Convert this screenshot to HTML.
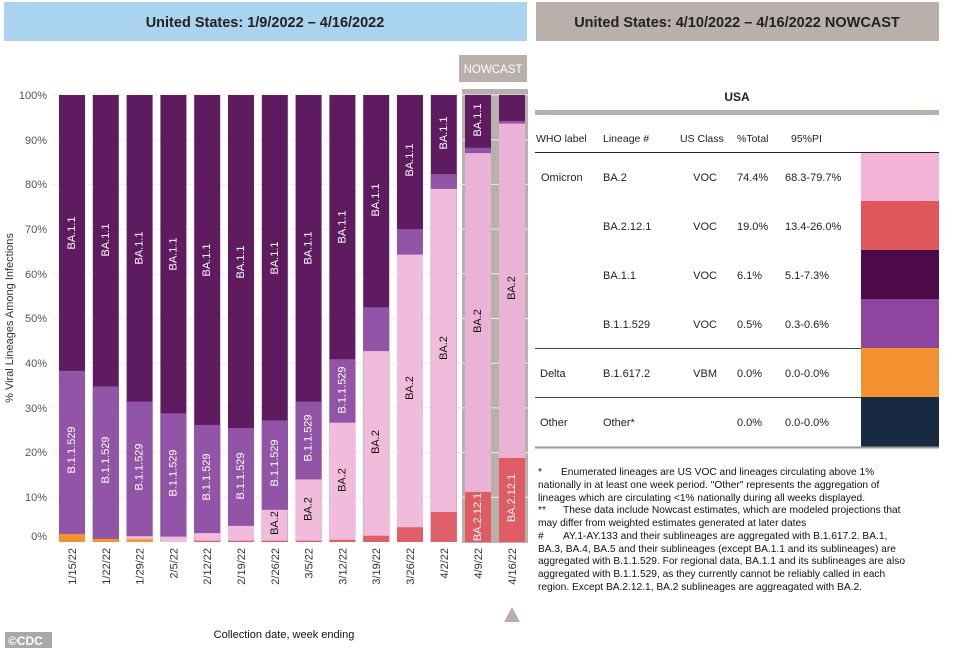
<!DOCTYPE html>
<html><head><meta charset="utf-8"><style>
body{margin:0;background:#fff;width:961px;height:648px;overflow:hidden;font-family:"Liberation Sans",Arial,sans-serif}
svg text{font-family:"Liberation Sans",Arial,sans-serif}
</style></head><body>
<svg width="961" height="648" viewBox="0 0 961 648" xmlns="http://www.w3.org/2000/svg">
<rect x="4" y="2" width="523" height="39" fill="#a9d3ee"/>
<text x="265" y="27" font-size="14.5" font-weight="bold" text-anchor="middle" fill="#222">United States: 1/9/2022 – 4/16/2022</text>
<rect x="536" y="2" width="403" height="39" fill="#b9afab"/>
<text x="737" y="27" font-size="14.5" font-weight="bold" text-anchor="middle" fill="#222">United States: 4/10/2022 – 4/16/2022 NOWCAST</text>
<rect x="459" y="55" width="68" height="27" fill="#b9afab"/>
<text x="493" y="73" font-size="11.5" text-anchor="middle" fill="#fff">NOWCAST</text>
<rect x="462" y="89" width="66" height="454" fill="#b9afab"/>
<g stroke="#eeeeee" stroke-width="1">
<line x1="52" x2="528" y1="95" y2="95"/><line x1="52" x2="528" y1="139.7" y2="139.7"/><line x1="52" x2="528" y1="184.4" y2="184.4"/><line x1="52" x2="528" y1="229.1" y2="229.1"/><line x1="52" x2="528" y1="273.8" y2="273.8"/><line x1="52" x2="528" y1="318.5" y2="318.5"/><line x1="52" x2="528" y1="363.2" y2="363.2"/><line x1="52" x2="528" y1="407.9" y2="407.9"/><line x1="52" x2="528" y1="452.6" y2="452.6"/><line x1="52" x2="528" y1="497.3" y2="497.3"/>
</g>
<g font-size="11" fill="#555" text-anchor="end">
<text x="47" y="99">100%</text><text x="47" y="144">90%</text><text x="47" y="188">80%</text><text x="47" y="233">70%</text><text x="47" y="278">60%</text><text x="47" y="322">50%</text><text x="47" y="367">40%</text><text x="47" y="412">30%</text><text x="47" y="456">20%</text><text x="47" y="501">10%</text><text x="47" y="540">0%</text>
</g>
<text transform="translate(13,318) rotate(-90)" font-size="11" fill="#333" text-anchor="middle">% Viral Lineages Among Infections</text>
<g>
<!-- bar 0 -->
<rect x="59" y="95" width="26" height="447" fill="#5f1b60"/><rect x="59" y="370.8" width="26" height="171.2" fill="#9154a6"/><rect x="59" y="534" width="26" height="8" fill="#f39334"/>
<rect x="92.8" y="95" width="26" height="447" fill="#5f1b60"/><rect x="92.8" y="386.4" width="26" height="155.6" fill="#9154a6"/><rect x="92.8" y="538.9" width="26" height="3.1" fill="#f39334"/>
<rect x="126.6" y="95" width="26" height="447" fill="#5f1b60"/><rect x="126.6" y="401.6" width="26" height="140.4" fill="#9154a6"/><rect x="126.6" y="536.2" width="26" height="5.8" fill="#f1bcdc"/><rect x="126.6" y="539.3" width="26" height="2.7" fill="#f39334"/>
<rect x="160.4" y="95" width="26" height="447" fill="#5f1b60"/><rect x="160.4" y="413.3" width="26" height="128.7" fill="#9154a6"/><rect x="160.4" y="536.6" width="26" height="5.4" fill="#f1bcdc"/>
<rect x="194.2" y="95" width="26" height="447" fill="#5f1b60"/><rect x="194.2" y="424.9" width="26" height="117.1" fill="#9154a6"/><rect x="194.2" y="533.1" width="26" height="8.9" fill="#f1bcdc"/><rect x="194.2" y="540.7" width="26" height="1.3" fill="#e0606a"/>
<rect x="228" y="95" width="26" height="447" fill="#5f1b60"/><rect x="228" y="428" width="26" height="114" fill="#9154a6"/><rect x="228" y="525.9" width="26" height="16.1" fill="#f1bcdc"/><rect x="228" y="540.7" width="26" height="1.3" fill="#e0606a"/>
<rect x="261.8" y="95" width="26" height="447" fill="#5f1b60"/><rect x="261.8" y="420.4" width="26" height="121.6" fill="#9154a6"/><rect x="261.8" y="509.8" width="26" height="32.2" fill="#f1bcdc"/><rect x="261.8" y="540.7" width="26" height="1.3" fill="#e0606a"/>
<rect x="295.6" y="95" width="26" height="447" fill="#5f1b60"/><rect x="295.6" y="401.6" width="26" height="140.4" fill="#9154a6"/><rect x="295.6" y="479.4" width="26" height="62.6" fill="#f1bcdc"/><rect x="295.6" y="540.7" width="26" height="1.3" fill="#e0606a"/>
<rect x="329.4" y="95" width="26" height="447" fill="#5f1b60"/><rect x="329.4" y="359.2" width="26" height="182.8" fill="#9154a6"/><rect x="329.4" y="422.7" width="26" height="119.3" fill="#f1bcdc"/><rect x="329.4" y="539.8" width="26" height="2.2" fill="#e0606a"/>
<rect x="363.2" y="95" width="26" height="447" fill="#5f1b60"/><rect x="363.2" y="307.3" width="26" height="234.7" fill="#9154a6"/><rect x="363.2" y="351.1" width="26" height="190.9" fill="#f1bcdc"/><rect x="363.2" y="535.7" width="26" height="6.3" fill="#e0606a"/>
<rect x="397" y="95" width="26" height="447" fill="#5f1b60"/><rect x="397" y="229.1" width="26" height="312.9" fill="#9154a6"/><rect x="397" y="254.6" width="26" height="287.4" fill="#f1bcdc"/><rect x="397" y="527.2" width="26" height="14.8" fill="#e0606a"/>
<rect x="430.8" y="95" width="26" height="447" fill="#5f1b60"/><rect x="430.8" y="174.1" width="26" height="367.9" fill="#9154a6"/><rect x="430.8" y="188.9" width="26" height="353.1" fill="#f1bcdc"/><rect x="430.8" y="512" width="26" height="30" fill="#e0606a"/>
<rect x="465" y="95" width="26" height="447" fill="#5f1b60"/><rect x="465" y="147.7" width="26" height="394.3" fill="#9154a6"/><rect x="465" y="153.1" width="26" height="388.9" fill="#eab3d6"/><rect x="465" y="491.9" width="26" height="50.1" fill="#df5c64"/>
<rect x="499" y="95" width="26" height="447" fill="#5f1b60"/><rect x="499" y="120.9" width="26" height="421.1" fill="#9154a6"/><rect x="499" y="123.6" width="26" height="418.4" fill="#eab3d6"/><rect x="499" y="458" width="26" height="84" fill="#df5c64"/>
</g>
<g font-size="11" fill="#fff" text-anchor="middle" dominant-baseline="central">
<text transform="translate(72,233) rotate(-90)">BA.1.1</text>
<text transform="translate(105.8,240) rotate(-90)">BA.1.1</text>
<text transform="translate(139.6,248) rotate(-90)">BA.1.1</text>
<text transform="translate(173.4,254) rotate(-90)">BA.1.1</text>
<text transform="translate(207.2,260) rotate(-90)">BA.1.1</text>
<text transform="translate(241,262) rotate(-90)">BA.1.1</text>
<text transform="translate(274.8,258) rotate(-90)">BA.1.1</text>
<text transform="translate(308.6,248) rotate(-90)">BA.1.1</text>
<text transform="translate(342.4,227) rotate(-90)">BA.1.1</text>
<text transform="translate(376.2,200) rotate(-90)">BA.1.1</text>
<text transform="translate(410,160) rotate(-90)">BA.1.1</text>
<text transform="translate(443.8,133) rotate(-90)">BA.1.1</text>
<text transform="translate(478,120) rotate(-90)">BA.1.1</text>
<text transform="translate(72,450) rotate(-90)">B.1.1.529</text>
<text transform="translate(105.8,460) rotate(-90)">B.1.1.529</text>
<text transform="translate(139.6,467) rotate(-90)">B.1.1.529</text>
<text transform="translate(173.4,473) rotate(-90)">B.1.1.529</text>
<text transform="translate(207.2,477) rotate(-90)">B.1.1.529</text>
<text transform="translate(241,476) rotate(-90)">B.1.1.529</text>
<text transform="translate(274.8,463) rotate(-90)">B.1.1.529</text>
<text transform="translate(308.6,438) rotate(-90)">B.1.1.529</text>
<text transform="translate(342.4,390) rotate(-90)">B.1.1.529</text>
<text transform="translate(478,517) rotate(-90)">BA.2.12.1</text>
<text transform="translate(512,498) rotate(-90)">BA.2.12.1</text>
</g>
<g font-size="11" fill="#111" text-anchor="middle" dominant-baseline="central">
<text transform="translate(274.8,523) rotate(-90)">BA.2</text>
<text transform="translate(308.6,509) rotate(-90)">BA.2</text>
<text transform="translate(342.4,480) rotate(-90)">BA.2</text>
<text transform="translate(376.2,442) rotate(-90)">BA.2</text>
<text transform="translate(410,388) rotate(-90)">BA.2</text>
<text transform="translate(443.8,348) rotate(-90)">BA.2</text>
<text transform="translate(478,321) rotate(-90)">BA.2</text>
<text transform="translate(512,288) rotate(-90)">BA.2</text>
</g>
<g font-size="11" fill="#333" text-anchor="end">
<text transform="translate(76,548) rotate(-90)">1/15/22</text>
<text transform="translate(109.8,548) rotate(-90)">1/22/22</text>
<text transform="translate(143.6,548) rotate(-90)">1/29/22</text>
<text transform="translate(177.4,548) rotate(-90)">2/5/22</text>
<text transform="translate(211.2,548) rotate(-90)">2/12/22</text>
<text transform="translate(245,548) rotate(-90)">2/19/22</text>
<text transform="translate(278.8,548) rotate(-90)">2/26/22</text>
<text transform="translate(312.6,548) rotate(-90)">3/5/22</text>
<text transform="translate(346.4,548) rotate(-90)">3/12/22</text>
<text transform="translate(380.2,548) rotate(-90)">3/19/22</text>
<text transform="translate(414,548) rotate(-90)">3/26/22</text>
<text transform="translate(447.8,548) rotate(-90)">4/2/22</text>
<text transform="translate(482,548) rotate(-90)">4/9/22</text>
<text transform="translate(516,548) rotate(-90)">4/16/22</text>
</g>
<polygon points="512,607 504,622 520,622" fill="#b9afab"/>
<text x="284" y="638" font-size="11" fill="#111" text-anchor="middle">Collection date, week ending</text>
<rect x="5" y="632" width="47" height="16" fill="#a8a8a8"/>
<text x="8" y="645" font-size="12" font-weight="bold" fill="#fff">©CDC</text>
<!-- right table -->
<text x="737" y="101" font-size="12" font-weight="bold" fill="#222" text-anchor="middle">USA</text>
<rect x="535" y="110" width="404" height="5" fill="#b9afab"/>
<g font-size="10.5" fill="#222">
<text x="536" y="142">WHO label</text><text x="603" y="142">Lineage #</text><text x="680" y="142">US Class</text><text x="737" y="142">%Total</text><text x="791" y="142">95%PI</text>
</g>
<line x1="535" x2="939" y1="152.5" y2="152.5" stroke="#222" stroke-width="1"/>
<rect x="861" y="153" width="78" height="48" fill="#f1b4d8"/>
<rect x="861" y="201" width="78" height="49" fill="#e0565c"/>
<rect x="861" y="250" width="78" height="49" fill="#4c0a48"/>
<rect x="861" y="299" width="78" height="49" fill="#8d45a0"/>
<rect x="861" y="348" width="78" height="49" fill="#f39131"/>
<rect x="861" y="397" width="78" height="50" fill="#172a41"/>
<g stroke="#444" stroke-width="1">
<line x1="535" x2="861" y1="348.5" y2="348.5"/><line x1="535" x2="861" y1="397.5" y2="397.5"/>
</g>
<line x1="535" x2="939" y1="447.5" y2="447.5" stroke="#999" stroke-width="2"/>
<g font-size="11" fill="#222">
<text x="541" y="181">Omicron</text><text x="603" y="181">BA.2</text><text x="717" y="181" text-anchor="end">VOC</text><text x="737" y="181">74.4%</text><text x="785" y="181">68.3-79.7%</text>
<text x="603" y="230">BA.2.12.1</text><text x="717" y="230" text-anchor="end">VOC</text><text x="737" y="230">19.0%</text><text x="785" y="230">13.4-26.0%</text>
<text x="603" y="279">BA.1.1</text><text x="717" y="279" text-anchor="end">VOC</text><text x="737" y="279">6.1%</text><text x="785" y="279">5.1-7.3%</text>
<text x="603" y="328">B.1.1.529</text><text x="717" y="328" text-anchor="end">VOC</text><text x="737" y="328">0.5%</text><text x="785" y="328">0.3-0.6%</text>
<text x="540" y="377">Delta</text><text x="603" y="377">B.1.617.2</text><text x="717" y="377" text-anchor="end">VBM</text><text x="737" y="377">0.0%</text><text x="785" y="377">0.0-0.0%</text>
<text x="540" y="426">Other</text><text x="603" y="426">Other*</text><text x="737" y="426">0.0%</text><text x="785" y="426">0.0-0.0%</text>
</g>
<g font-size="10.2" fill="#111">
<text x="538" y="475">*<tspan x="561">Enumerated lineages are US VOC and lineages circulating above 1%</tspan></text>
<text x="538" y="488">nationally in at least one week period. "Other" represents the aggregation of</text>
<text x="538" y="501">lineages which are circulating &lt;1% nationally during all weeks displayed.</text>
<text x="538" y="513">**<tspan x="563">These data include Nowcast estimates, which are modeled projections that</tspan></text>
<text x="538" y="526">may differ from weighted estimates generated at later dates</text>
<text x="538" y="539">#<tspan x="563">AY.1-AY.133 and their sublineages are aggregated with B.1.617.2. BA.1,</tspan></text>
<text x="538" y="552">BA.3, BA.4, BA.5 and their sublineages (except BA.1.1 and its sublineages) are</text>
<text x="538" y="564">aggregated with B.1.1.529. For regional data, BA.1.1 and its sublineages are also</text>
<text x="538" y="577">aggregated with B.1.1.529, as they currently cannot be reliably called in each</text>
<text x="538" y="590">region. Except BA.2.12.1, BA.2 sublineages are aggreagated with BA.2.</text>
</g>
</svg>
</body></html>
